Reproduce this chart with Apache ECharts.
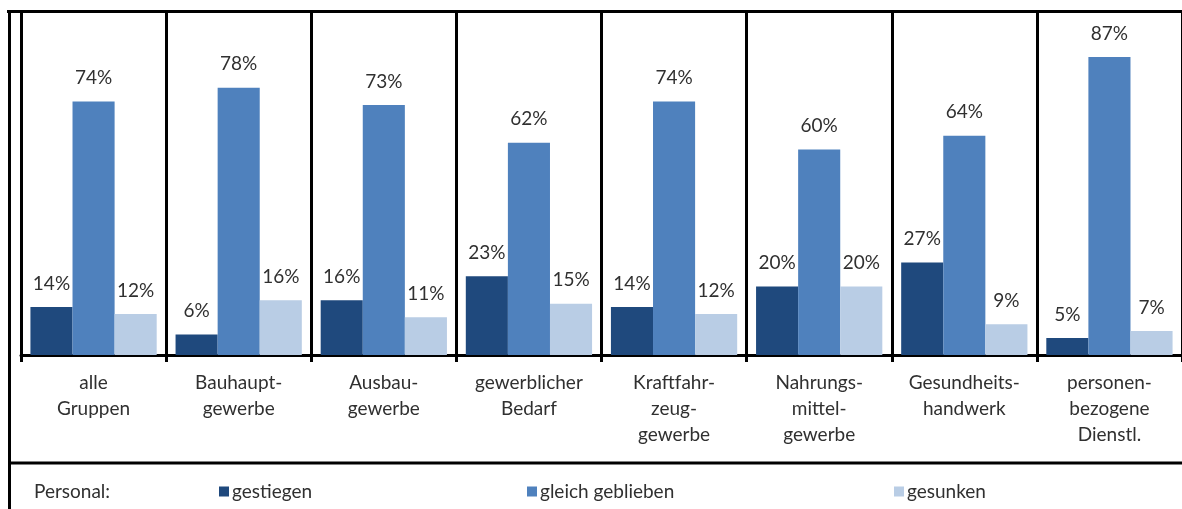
<!DOCTYPE html>
<html>
<head>
<meta charset="utf-8">
<script src="https://cdn.jsdelivr.net/npm/echarts@6/dist/echarts.min.js"></script>
<style>
  html, body { margin: 0; padding: 0; background: #fff; }
  #chart { width: 1182px; height: 509px; }
</style>
</head>
<body>
<div id="chart"></div>
<script>
// Daten
var categories = ['alle\nGruppen', 'Bauhaupt-\ngewerbe', 'Ausbau-\ngewerbe', 'gewerblicher\nBedarf',
    'Kraftfahr-\nzeug-\ngewerbe', 'Nahrungs-\nmittel-\ngewerbe', 'Gesundheits-\nhandwerk', 'personen-\nbezogene\nDienstl.'];
var seriesNames = ['gestiegen', 'gleich geblieben', 'gesunken'];
var gestiegen = [14, 6, 16, 23, 14, 20, 27, 5];
var gleichGeblieben = [74, 78, 73, 62, 74, 60, 64, 87];
var gesunken = [12, 16, 11, 15, 12, 20, 9, 7];

var colors = ['#1f497d', '#4f81bd', '#b9cde5'];
var textColor = '#303030';
var fontFam = 'Lato, "Open Sans", sans-serif';

var chart = echarts.init(document.getElementById('chart'));

function makeSeries(name, values, color) {
    return {
        name: name,
        type: 'bar',
        data: values,
        barGap: 0,
        barCategoryGap: '13%',
        itemStyle: { color: color },
        label: {
            show: true,
            position: 'top',
            distance: 14,
            formatter: '{c}%',
            color: textColor,
            fontSize: 19,
            fontFamily: fontFam
        }
    };
}

var option = {
    animation: false,
    textStyle: { fontFamily: fontFam },
    title: {
        text: 'Personal:',
        left: 29,
        top: 477,
        textStyle: { fontSize: 19, fontWeight: 'normal', color: textColor, fontFamily: fontFam }
    },
    legend: [214, 522, 889].map(function (x, i) {
        return {
            data: [seriesNames[i]],
            left: x,
            top: 477,
            itemWidth: 10,
            itemHeight: 10,
            itemGap: 5,
            icon: 'rect',
            selectedMode: false,
            textStyle: { fontSize: 19, color: textColor, fontFamily: fontFam, padding: [0, 0, 0, -2] }
        };
    }),
    grid: {
        left: 21,
        top: 12.5,
        width: 1166,
        height: 342.5
    },
    xAxis: {
        type: 'category',
        data: categories,
        axisLine: { lineStyle: { color: '#000', width: 3 } },
        axisTick: { show: true, length: 7, lineStyle: { color: '#000', width: 3 } },
        splitLine: { show: true, lineStyle: { color: '#000', width: 3 } },
        axisLabel: {
            color: textColor,
            fontSize: 19,
            lineHeight: 26,
            margin: 15,
            interval: 0,
            fontFamily: fontFam
        }
    },
    yAxis: {
        type: 'value',
        min: 0,
        max: 100,
        show: false,
        splitLine: { show: false }
    },
    graphic: [
        { type: 'line', shape: { x1: 7, y1: 11.5, x2: 1182, y2: 11.5 }, style: { stroke: '#000', lineWidth: 3 } },
        { type: 'line', shape: { x1: 9.5, y1: 10, x2: 9.5, y2: 509 }, style: { stroke: '#000', lineWidth: 3 } },
        { type: 'line', shape: { x1: 8, y1: 463, x2: 1182, y2: 463 }, style: { stroke: '#000', lineWidth: 3 } }
    ],
    series: [
        makeSeries(seriesNames[0], gestiegen, colors[0]),
        makeSeries(seriesNames[1], gleichGeblieben, colors[1]),
        makeSeries(seriesNames[2], gesunken, colors[2])
    ]
};

chart.setOption(option);
</script>
</body>
</html>
